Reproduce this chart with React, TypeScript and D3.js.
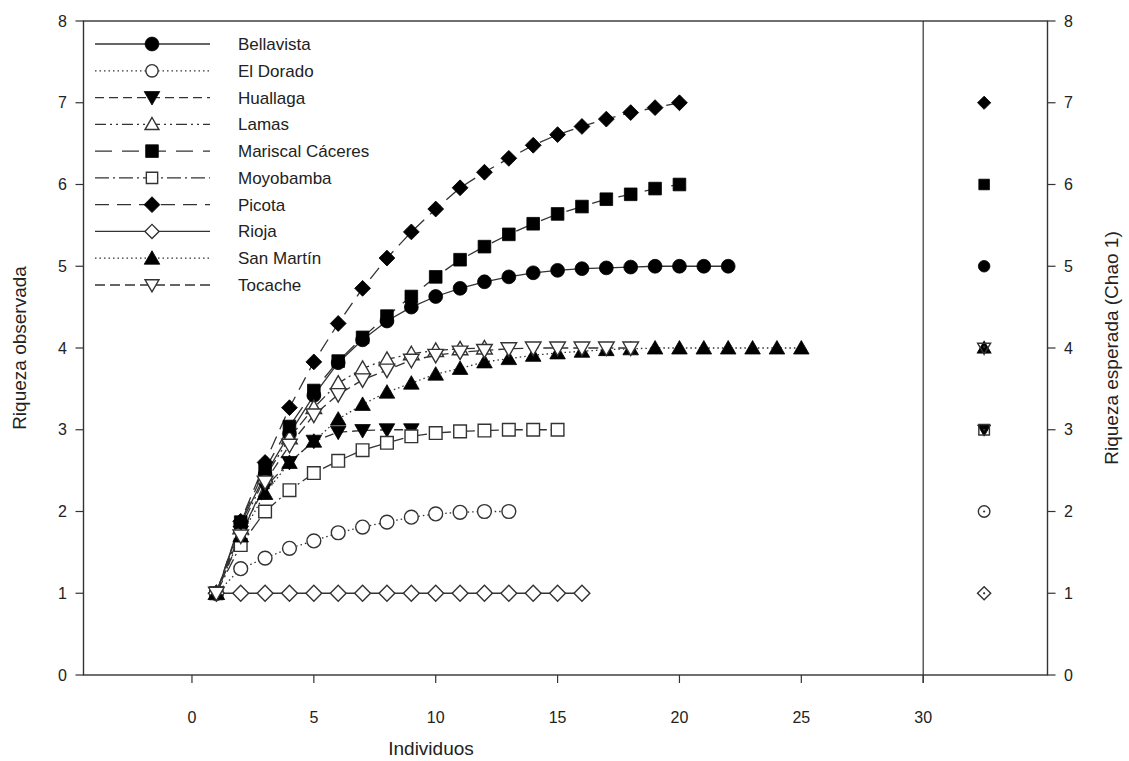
import React from "react";
import * as d3 from "d3";

// ---- Data ----
const seriesNames = [
  "Bellavista",
  "El Dorado",
  "Huallaga",
  "Lamas",
  "Mariscal Cáceres",
  "Moyobamba",
  "Picota",
  "Rioja",
  "San Martín",
  "Tocache",
];

const bellavista = [1, 1.85, 2.45, 2.95, 3.42, 3.82, 4.1, 4.33, 4.5, 4.63, 4.73, 4.81, 4.87, 4.92, 4.95, 4.97, 4.98, 4.99, 5, 5, 5, 5];
const elDorado = [1, 1.3, 1.43, 1.55, 1.64, 1.74, 1.81, 1.87, 1.93, 1.97, 1.99, 2.0, 2.0];
const huallaga = [1, 1.75, 2.3, 2.6, 2.86, 2.97, 2.99, 3.0, 3.0];
const lamas = [1, 1.8, 2.42, 2.9, 3.27, 3.57, 3.75, 3.86, 3.93, 3.97, 3.99, 4.0];
const mariscal = [1, 1.87, 2.52, 3.04, 3.48, 3.84, 4.13, 4.39, 4.63, 4.87, 5.08, 5.24, 5.39, 5.52, 5.64, 5.73, 5.82, 5.88, 5.95, 6.0];
const moyobamba = [1, 1.59, 2.0, 2.26, 2.47, 2.62, 2.75, 2.84, 2.92, 2.96, 2.98, 2.99, 3.0, 3.0, 3.0];
const picota = [1, 1.88, 2.6, 3.27, 3.83, 4.3, 4.73, 5.1, 5.42, 5.7, 5.96, 6.15, 6.32, 6.48, 6.61, 6.71, 6.8, 6.88, 6.94, 7.0];
const rioja = [1, 1, 1, 1, 1, 1, 1, 1, 1, 1, 1, 1, 1, 1, 1, 1];
const sanMartin = [1, 1.7, 2.22, 2.6, 2.86, 3.13, 3.31, 3.46, 3.57, 3.68, 3.75, 3.83, 3.87, 3.91, 3.94, 3.96, 3.98, 3.99, 4, 4, 4, 4, 4, 4, 4];
const tocache = [1, 1.7, 2.36, 2.81, 3.18, 3.43, 3.61, 3.73, 3.85, 3.91, 3.95, 3.97, 3.99, 4, 4, 4, 4, 4];

const chao1 = [5, 2, 3, 4, 6, 3, 7, 1, 4, 4];
const chaoPosition = 32.5;

const xTicks = [0, 5, 10, 15, 20, 25, 30];
const yTicks = [0, 1, 2, 3, 4, 5, 6, 7, 8];

// ---- Styles ----
type Shape = "circle" | "diamond" | "triUp" | "triDown" | "square";
const styles: { shape: Shape; filled: boolean; dash: string }[] = [
  { shape: "circle", filled: true, dash: "" },
  { shape: "circle", filled: false, dash: "1.5,3" },
  { shape: "triDown", filled: true, dash: "9,5" },
  { shape: "triUp", filled: false, dash: "11,4,2,4,2,4" },
  { shape: "square", filled: true, dash: "17,10" },
  { shape: "square", filled: false, dash: "14,4,2,4" },
  { shape: "diamond", filled: true, dash: "14,8" },
  { shape: "diamond", filled: false, dash: "" },
  { shape: "triUp", filled: true, dash: "1.5,3" },
  { shape: "triDown", filled: false, dash: "10,5" },
];

const allSeries = [bellavista, elDorado, huallaga, lamas, mariscal, moyobamba, picota, rioja, sanMartin, tocache];

const W = 1129;
const H = 761;

const x = d3.scaleLinear().domain([-4.45, 35.1]).range([83.5, 1047.5]);
const y = d3.scaleLinear().domain([0, 8]).range([675, 21]);

function symbolPath(shape: Shape, scale: number): { d: string; rot: number } {
  switch (shape) {
    case "circle":
      return { d: d3.symbol().type(d3.symbolCircle).size(150 * scale)() as string, rot: 0 };
    case "square":
      return { d: d3.symbol().type(d3.symbolSquare).size(160 * scale)() as string, rot: 0 };
    case "diamond":
      return { d: d3.symbol().type(d3.symbolSquare).size(125 * scale)() as string, rot: 45 };
    case "triUp":
      return { d: d3.symbol().type(d3.symbolTriangle).size(105 * scale)() as string, rot: 0 };
    case "triDown":
      return { d: d3.symbol().type(d3.symbolTriangle).size(105 * scale)() as string, rot: 180 };
  }
}

function Marker({ cx, cy, idx, scale = 1, dot = false, hollow = false }: { cx: number; cy: number; idx: number; scale?: number; dot?: boolean; hollow?: boolean }) {
  const st = styles[idx];
  const { d, rot } = symbolPath(st.shape, scale);
  const shiftY = st.shape === "triUp" ? 1.5 * scale : st.shape === "triDown" ? -1.5 * scale : 0;
  return (
    <g transform={`translate(${cx},${cy + shiftY}) rotate(${rot})`}>
      <path
        d={d}
        fill={st.filled ? "#000" : hollow ? "none" : "#fff"}
        stroke={st.filled ? "#000" : "#333"}
        strokeWidth={st.filled ? 0.8 : 1.4}
      />
      {dot && !st.filled ? <circle r={1.1} fill="#333" /> : null}
    </g>
  );
}

export default function App() {
  const line = d3
    .line<number>()
    .x((_, i) => x(i + 1))
    .y((v) => y(v));

  const legendY = d3.scaleLinear().domain([0, 9]).range([44, 285]);

  return (
    <svg
      width={W}
      height={H}
      style={{ position: "absolute", left: 0, top: 0, background: "#fff" }}
      fontFamily="'Liberation Sans', Arial, sans-serif"
    >
      <rect x={0} y={0} width={W} height={H} fill="#fff" />

      {/* frame */}
      <rect x={x(-4.45)} y={y(8)} width={x(35.1) - x(-4.45)} height={y(0) - y(8)} fill="none" stroke="#333" strokeWidth={1.4} />
      {/* divider at 30 */}
      <line x1={x(30)} x2={x(30)} y1={y(8)} y2={y(0) + 8} stroke="#333" strokeWidth={1.2} />

      {/* left axis ticks */}
      {yTicks.map((t) => (
        <g key={"yl" + t}>
          <line x1={x(-4.45) - 8} x2={x(-4.45)} y1={y(t)} y2={y(t)} stroke="#333" strokeWidth={1.2} />
          <text x={67} y={y(t)} dy="0.35em" textAnchor="end" fontSize={16} fill="#222">
            {t}
          </text>
        </g>
      ))}
      {/* right axis ticks */}
      {yTicks.map((t) => (
        <g key={"yr" + t}>
          <line x1={x(35.1)} x2={x(35.1) + 8} y1={y(t)} y2={y(t)} stroke="#333" strokeWidth={1.2} />
          <text x={1064} y={y(t)} dy="0.35em" textAnchor="start" fontSize={16} fill="#222">
            {t}
          </text>
        </g>
      ))}
      {/* bottom ticks */}
      {xTicks.map((t) => (
        <g key={"x" + t}>
          <line x1={x(t)} x2={x(t)} y1={y(0)} y2={y(0) + 8} stroke="#333" strokeWidth={1.2} />
          <text x={x(t)} y={717} dy="0.35em" textAnchor="middle" fontSize={16} fill="#222">
            {t}
          </text>
        </g>
      ))}

      {/* axis titles */}
      <text x={431} y={748} dy="0.35em" textAnchor="middle" fontSize={19} fill="#222">
        Individuos
      </text>
      <text transform={`translate(19,348) rotate(-90)`} textAnchor="middle" dy="0.35em" fontSize={19} fill="#222">
        Riqueza observada
      </text>
      <text transform={`translate(1111,348) rotate(-90)`} textAnchor="middle" dy="0.35em" fontSize={19} fill="#222">
        Riqueza esperada (Chao 1)
      </text>

      {/* series lines */}
      {allSeries.map((s, i) => (
        <path
          key={"l" + i}
          d={line(s) as string}
          fill="none"
          stroke="#333"
          strokeWidth={1.3}
          strokeDasharray={styles[i].dash || undefined}
        />
      ))}
      {/* series markers */}
      {allSeries.map((s, i) => (
        <g key={"m" + i}>
          {s.map((v, j) => (
            <Marker key={j} cx={x(j + 1)} cy={y(v)} idx={i} />
          ))}
        </g>
      ))}

      {/* Chao 1 markers */}
      {chao1.map((v, i) => (
        <Marker key={"c" + i} cx={x(chaoPosition)} cy={y(v)} idx={i} scale={0.7} dot hollow />
      ))}

      {/* legend */}
      {seriesNames.map((name, i) => {
        const ly = legendY(i);
        return (
          <g key={"lg" + i}>
            <line x1={95} x2={210} y1={ly} y2={ly} stroke="#333" strokeWidth={1.3} strokeDasharray={styles[i].dash || undefined} />
            <Marker cx={152} cy={ly} idx={i} scale={styles[i].filled ? 1 : 0.8} />
            <text x={238} y={ly} dy="0.35em" fontSize={17} fill="#222">
              {name}
            </text>
          </g>
        );
      })}
    </svg>
  );
}
